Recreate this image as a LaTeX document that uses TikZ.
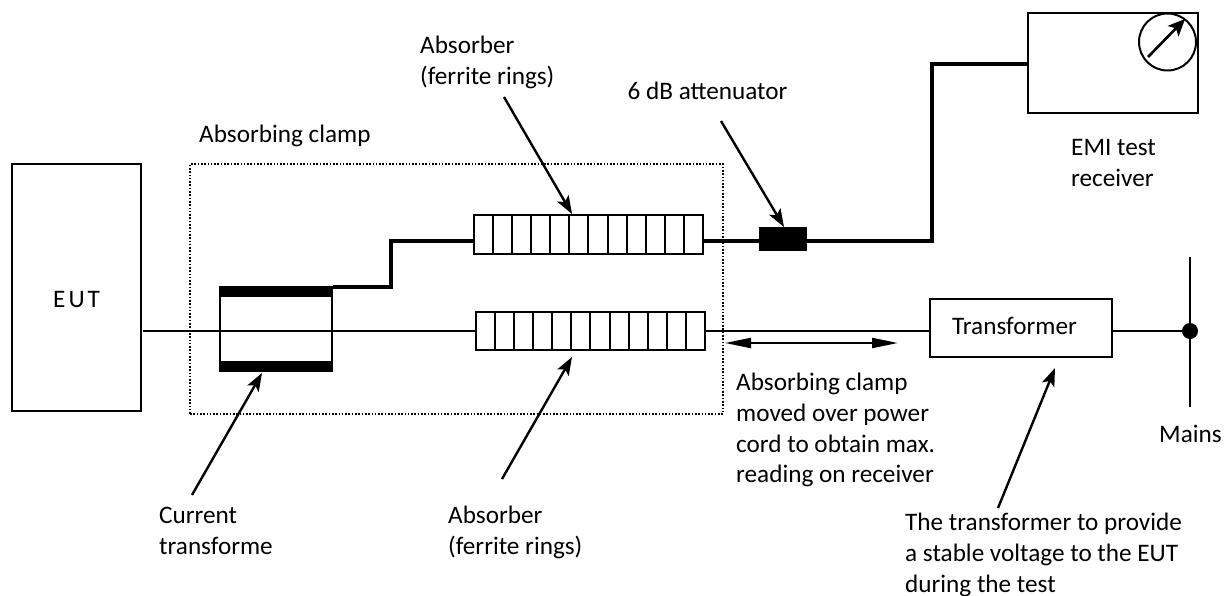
\documentclass[tikz,border=0pt]{standalone}
\usepackage{fontspec}
\setmainfont{Carlito}
\usetikzlibrary{arrows.meta}
\tikzset{
 wire/.style={line width=2.5pt},
 heavywire/.style={line width=3.6pt,line join=miter},
 box/.style={draw,line width=2pt,fill=white,inner sep=0pt,outer sep=0pt,anchor=north west},
 solidblock/.style={draw=none,fill=black,inner sep=0pt,outer sep=0pt,anchor=north west},
 pointer/.style={line width=2.4pt,-{Stealth[length=18pt,width=13pt,inset=4pt]}},
 lbl/.style={font=\fontsize{25.2}{30.9}\selectfont,align=left,anchor=north west,inner sep=0pt,yshift=21.63pt},
 ringline/.style={line width=2pt},
}
\begin{document}
\begin{tikzpicture}[x=1pt,y=-1pt]
\useasboundingbox (0,0) rectangle (1228,596);
% dotted clamp frame
\node[draw,line width=1.5pt,dash pattern=on 1.6pt off 1.7pt,inner sep=0pt,outer sep=0pt,anchor=north west,minimum width=533pt,minimum height=250pt] (frame) at (190,164) {};
% boxes
\node[box,minimum width=129pt,minimum height=247pt] (eut) at (12,164) {};
\node[font=\fontsize{25.2}{30}\selectfont\addfontfeature{LetterSpace=12},anchor=base west,inner sep=0pt] (eutl) at (53,307) {EUT};
\node[box,minimum width=170pt,minimum height=100pt] (rx) at (1028,13) {};
\node[box,minimum width=182pt,minimum height=58pt] (tr) at (930,299) {};
\node[font=\fontsize{25.2}{30.9}\selectfont,inner sep=0pt,anchor=base west] (trl) at (952,334) {Transformer};
% current transformer
\node[box,fill=none,minimum width=112pt,minimum height=84pt] (clamp) at (220,287) {};
\node[solidblock,minimum width=114pt,minimum height=11pt] (topbar) at (219,286) {};
\node[solidblock,minimum width=114pt,minimum height=11pt] (botbar) at (219,361) {};
% ferrite rows
\node[box,minimum width=229pt,minimum height=39pt] (ringsA) at (474,215) {};
\node[box,minimum width=229pt,minimum height=38pt] (ringsB) at (476,312) {};
\foreach \i in {1,...,11}{
  \draw[ringline] (474+\i*19.08,215) -- (474+\i*19.08,254);
  \draw[ringline] (476+\i*19.08,312) -- (476+\i*19.08,350);
}
% attenuator
\node[solidblock,minimum width=48pt,minimum height=24pt] (att) at (759,227) {};
% meter
\node[circle,draw,line width=2pt,inner sep=0pt,outer sep=0pt,minimum size=57pt] (meter) at (1167.5,42) {};
\coordinate (mA) at (1148,57);
\coordinate (mB) at (1185,19);
\draw[line width=2.6pt,-{Stealth[length=17pt,width=15pt,inset=4pt]}] (mA) -- (mB);
% main line
\coordinate (eutL) at (143,331);
\coordinate (rAin) at (ringsB.west |- 0,331);
\coordinate (rAout) at (ringsB.east |- 0,331);
\coordinate (trin) at (tr.west |- 0,331);
\coordinate (trout) at (tr.east |- 0,331);
\node[circle,fill=black,inner sep=0pt,minimum size=16pt] (junc) at (1190,331) {};
\draw[wire] (eutL) -- (rAin);
\draw[wire] (rAout) -- (trin);
\draw[wire] (trout) -- (junc);
\coordinate (mainsT) at (1190,257);
\coordinate (mainsB) at (1190,407);
\draw[wire] (mainsT) -- (mainsB);
% signal line
\coordinate (s1) at (333,287);
\coordinate (s2) at (391,287);
\coordinate (s3) at (391,241);
\coordinate (s4) at (ringsA.west |- 0,241);
\coordinate (s5) at (ringsA.east |- 0,241);
\coordinate (s6) at (att.west |- 0,241);
\coordinate (s7) at (att.east |- 0,241);
\coordinate (s8) at (932,241);
\coordinate (s9) at (932,64);
\coordinate (s10) at (rx.west |- 0,64);
\draw[heavywire] (s1) -- (s2) -- (s3) -- (s4);
\draw[heavywire] (s5) -- (s6);
\draw[heavywire] (s7) -- (s8) -- (s9) -- (s10);
% move arrow
\coordinate (mvL) at (725,343);
\coordinate (mvR) at (898,343);
\draw[line width=2.2pt,{Stealth[length=26pt,width=10pt,inset=0pt]}-{Stealth[length=26pt,width=10pt,inset=0pt]}] (mvL) -- (mvR);
% pointers
\coordinate (p1) at (504,97);
\coordinate (p1e) at (572,214);
\draw[pointer] (p1) -- (p1e);
\coordinate (p2) at (721,121);
\coordinate (p2e) at (784,227);
\draw[pointer] (p2) -- (p2e);
\coordinate (p3) at (192,495);
\coordinate (p3e) at (262,373);
\draw[pointer] (p3) -- (p3e);
\coordinate (p4) at (502,479);
\coordinate (p4e) at (572,357);
\draw[pointer] (p4) -- (p4e);
\coordinate (p5) at (998,508);
\coordinate (p5e) at (1055,368);
\draw[pointer] (p5) -- (p5e);
% labels (given by first-line baseline)
\node[lbl] (l1) at (420,53) {\strut Absorber\\\strut (ferrite rings)};
\node[lbl] (l2) at (627.5,99) {\strut 6 dB attenuator};
\node[lbl] (l3) at (199,142) {\strut Absorbing clamp};
\node[lbl] (l4) at (1071,155) {\strut EMI test\\\strut receiver};
\node[lbl] (l5) at (736,390) {\strut Absorbing clamp\\\strut moved over power\\\strut cord to obtain max.\\\strut reading on receiver};
\node[lbl] (l6) at (159,523) {\strut Current\\\strut transforme};
\node[lbl] (l7) at (448,523) {\strut Absorber\\\strut (ferrite rings)};
\node[lbl] (l8) at (1159,442) {\strut Mains};
\node[lbl] (l9) at (905,530) {\strut The transformer to provide\\\strut a stable voltage to the EUT\\\strut during the test};
\end{tikzpicture}
\end{document}
